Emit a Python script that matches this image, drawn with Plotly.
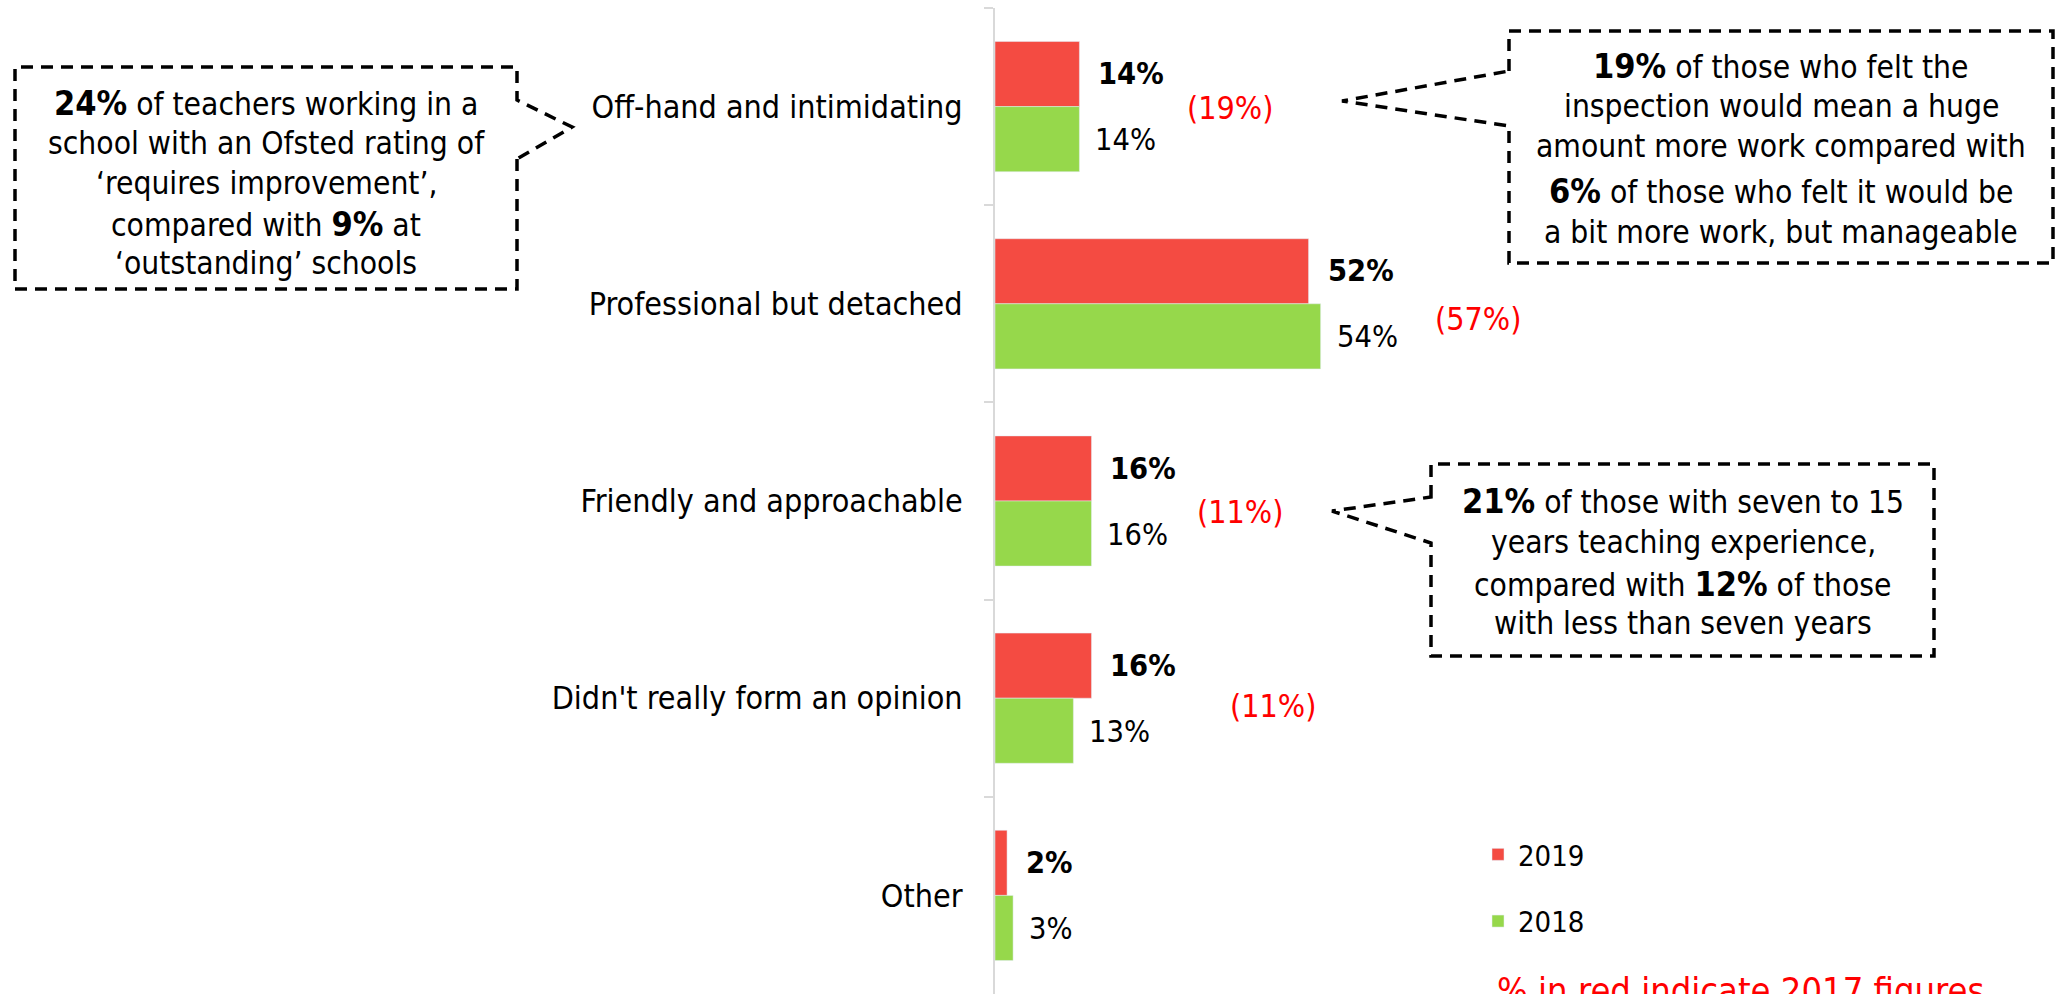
import plotly.graph_objects as go

# ---------------- data ----------------
categories = [
    "Off-hand and intimidating",
    "Professional but detached",
    "Friendly and approachable",
    "Didn't really form an opinion",
    "Other",
]
values_2019 = [14, 52, 16, 16, 2]
values_2018 = [14, 54, 16, 13, 3]
labels_2017 = ["(19%)", "(57%)", "(11%)", "(11%)", ""]

callout_left = [
    "<b>24%</b> of teachers working in a",
    "school with an Ofsted rating of",
    "‘requires improvement’,",
    "compared with <b>9%</b> at",
    "‘outstanding’ schools",
]
callout_right = [
    "<b>19%</b> of those who felt the",
    "inspection would mean a huge",
    "amount more work compared with",
    "<b>6%</b> of those who felt it would be",
    "a bit more work, but manageable",
]
callout_mid = [
    "<b>21%</b> of those with seven to 15",
    "years teaching experience,",
    "compared with <b>12%</b> of those",
    "with less than seven years",
]
note_text = "% in red indicate 2017 figures"

# ---------------- styles / layout geometry ----------------
W, H = 2062, 994
ML, MR, MT, MB = 995, 0, 8, 0
PW = W - ML - MR
PH = H - MT - MB
PX_PER_UNIT = 6.03
XMAX = PW / PX_PER_UNIT

FONT = "DejaVu Sans Condensed, DejaVu Sans, sans-serif"
RED = "#F44B42"
GREEN = "#96D84B"
CALLOUT = 31.5
BIG = 34
CAT = 32
VAL = 30.5


def px(x):
    return (x - ML) / PW


def py(y):
    return 1 - (y - MT) / PH


def bigbold(s):
    return s.replace("<b>", "<b><span style='font-size:%spx'>" % BIG).replace("</b>", "</span></b>")


fig = go.Figure()
fig.add_trace(go.Bar(
    y=categories, x=values_2019, orientation="h", name="2019",
    marker=dict(color=RED), legendgroup="a", hoverinfo="skip",
))
fig.add_trace(go.Bar(
    y=categories, x=values_2018, orientation="h", name="2018",
    marker=dict(color=GREEN), legendgroup="b", hoverinfo="skip",
))

annotations = []
# value labels
for c, v in zip(categories, values_2019):
    annotations.append(dict(x=v, y=c, xref="x", yref="y", text="<b>%d%%</b>" % v,
                            xanchor="left", yanchor="middle", xshift=17, yshift=33,
                            showarrow=False, font=dict(size=VAL, color="black", family=FONT)))
for c, v in zip(categories, values_2018):
    annotations.append(dict(x=v, y=c, xref="x", yref="y", text="%d%%" % v,
                            xanchor="left", yanchor="middle", xshift=14, yshift=-33,
                            showarrow=False, font=dict(size=VAL, color="black", family=FONT)))

# 2017 labels (left pixel edge, y shift)
pos_2017 = [(1185, -1), (1433, -15), (1195, -11), (1228, -8), (0, 0)]
for c, lab, (lx, ys) in zip(categories, labels_2017, pos_2017):
    if not lab:
        continue
    annotations.append(dict(x=px(lx), y=c, xref="paper", yref="y", text=lab,
                            xanchor="left", yanchor="middle", yshift=ys,
                            showarrow=False, font=dict(size=CAT, color="#FF0000", family=FONT)))


def add_lines(lines, cx, ys):
    for line, yy in zip(lines, ys):
        annotations.append(dict(x=px(cx), y=py(yy), xref="paper", yref="paper",
                                text=bigbold(line), xanchor="center", yanchor="middle",
                                showarrow=False, font=dict(size=CALLOUT, color="black", family=FONT)))


add_lines(callout_left, 266, [103, 143, 183, 224, 263])
add_lines(callout_right, 1781, [66, 106, 146, 191, 232])
add_lines(callout_mid, 1683, [501, 542, 584, 623])

annotations.append(dict(x=px(1495), y=py(968), xref="paper", yref="paper", text=note_text,
                        xanchor="left", yanchor="top", showarrow=False,
                        font=dict(size=36, color="#FF0000", family=FONT)))


def path(points):
    s = "M %f,%f " % (px(points[0][0]), py(points[0][1]))
    for x, y in points[1:]:
        s += "L %f,%f " % (px(x), py(y))
    return s + "Z"


box_line = dict(color="black", width=3.5, dash="12px,8px")
shapes = [
    dict(type="path", xref="paper", yref="paper", line=box_line,
         path=path([(517, 159), (517, 289), (15, 289), (15, 67), (517, 67), (517, 100), (572, 127)])),
    dict(type="path", xref="paper", yref="paper", line=box_line,
         path=path([(1509, 71), (1509, 31), (2053, 31), (2053, 263), (1509, 263), (1509, 126), (1342, 101)])),
    dict(type="path", xref="paper", yref="paper", line=box_line,
         path=path([(1431, 497), (1431, 464), (1934, 464), (1934, 656), (1431, 656), (1431, 543), (1332, 511)])),
]

fig.update_layout(
    width=W, height=H,
    margin=dict(l=ML, r=MR, t=MT, b=MB, pad=0),
    paper_bgcolor="white", plot_bgcolor="white",
    barmode="group", bargap=0.34, bargroupgap=0,
    font=dict(family=FONT, size=CAT, color="black"),
    showlegend=True,
    legend=dict(x=px(1478), y=py(829), xanchor="left", yanchor="top",
                traceorder="grouped", tracegroupgap=26,
                font=dict(size=29, family=FONT, color="black"),
                bgcolor="rgba(0,0,0,0)", borderwidth=0),
    annotations=annotations,
    shapes=shapes,
)
fig.update_xaxes(range=[0, XMAX], visible=False, showgrid=False, zeroline=False)
fig.update_yaxes(
    type="category", categoryorder="array", categoryarray=categories,
    autorange="reversed", showgrid=False, zeroline=False,
    showline=True, linecolor="#D9D9D9", linewidth=2,
    ticks="outside", tickson="boundaries", ticklen=9, tickcolor="#D9D9D9", tickwidth=2,
    ticklabelstandoff=24,
    tickfont=dict(size=CAT, family=FONT, color="black"),
)

fig.write_html("out.html", config={"displayModeBar": False},
               post_script="document.body.style.margin='0px';")
